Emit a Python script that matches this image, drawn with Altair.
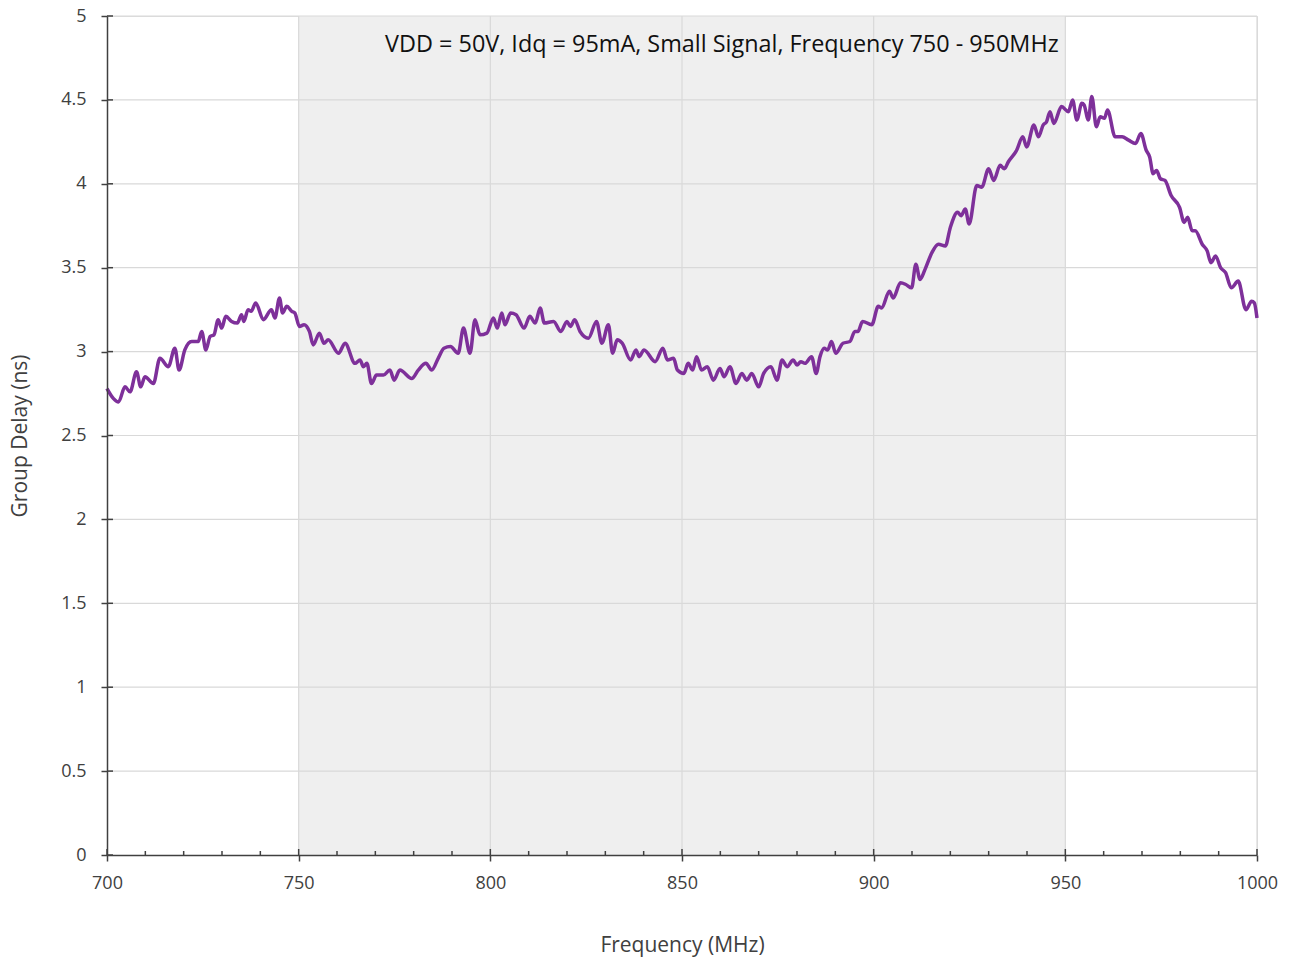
import altair as alt
import pandas as pd

freq = [700, 701.7, 703, 704.7, 706, 707.7, 708.8, 709.9, 712.1, 713.8, 716, 717.7, 718.8, 720.3, 722.1,
        723.8, 724.7, 725.8, 726.9, 727.9, 729.0, 729.9, 731.0, 732.5, 734.0, 735.1, 735.7, 736.8, 737.6,
        738.8, 740.8, 742.9, 743.8, 745.0, 745.8, 746.9, 748.2, 749.0, 750.2, 751.4, 752.8, 753.8, 755.4,
        756.6, 757.7, 760.4, 762.1, 764.7, 766.0, 766.9, 767.8, 769.0, 770.3, 772.1, 773.8, 774.9, 776.4,
        779.5, 781.2, 783.2, 784.7, 786.4, 787.9, 789.6, 791.6, 793.0, 794.7, 796.0, 797.3, 799.1, 800.8,
        801.8, 803.0, 803.8, 805.3, 806.7, 808.8, 810.3, 811.7, 813.0, 814.1, 816.5, 818.4, 820.0, 820.9,
        822.0, 823.4, 825.6, 827.7, 829.1, 830.8, 831.9, 833.1, 834.4, 836.6, 838.0, 838.8, 840.1, 843.0,
        845.0, 846.2, 847.8, 848.8, 850.5, 851.6, 852.8, 853.8, 855.1, 856.6, 858.2, 859.9, 861.0, 862.5,
        864.1, 865.6, 866.9, 868.2, 870.0, 871.3, 873.2, 874.8, 876.1, 877.4, 879.0, 880.0, 881.0, 882.1,
        883.8, 885.0, 886.0, 887.1, 888.0, 889.0, 890.1, 892.0, 893.8, 895.1, 895.9, 897.1, 899.5, 901.2,
        902.1, 904.1, 905.1, 907.0, 908.4, 909.9, 911.0, 912.1, 913.4, 915.2, 916.9, 918.7, 920.0, 921.9,
        922.8, 923.9, 924.9, 926.9, 928.2, 930.0, 931.3, 933.0, 934.1, 935.1, 937.3, 938.9, 939.9, 941.8,
        943.0, 944.2, 945.1, 946.0, 947.0, 949.0, 950.8, 951.9, 953.0, 954.3, 954.9, 956.0, 956.9, 958.1,
        959.1, 960.2, 961.0, 963.0, 964.8, 966.5, 968.3, 969.7, 971.1, 972.0, 972.9, 973.8, 974.8, 976.0,
        977.6, 979.8, 981.0, 981.9, 983.1, 983.9, 985.7, 987.0, 988.0, 989.2, 990.5, 991.8, 993.3, 995.1,
        997.1, 998.6, 999.3, 1000]

delay = [2.78, 2.72, 2.70, 2.79, 2.76, 2.88, 2.79, 2.85, 2.81, 2.96, 2.91, 3.02, 2.89, 3.01, 3.06,
         3.06, 3.12, 3.01, 3.09, 3.10, 3.19, 3.14, 3.21, 3.18, 3.17, 3.22, 3.18, 3.25, 3.24,
         3.29, 3.19, 3.25, 3.20, 3.32, 3.23, 3.27, 3.24, 3.23, 3.15, 3.16, 3.12, 3.04, 3.11,
         3.05, 3.07, 2.99, 3.05, 2.93, 2.95, 2.91, 2.93, 2.81, 2.86, 2.86, 2.89, 2.83, 2.89,
         2.84, 2.89, 2.93, 2.89, 2.96, 3.02, 3.03, 2.99, 3.14, 2.99, 3.19, 3.10, 3.11, 3.20,
         3.14, 3.23, 3.16, 3.23, 3.22, 3.14, 3.21, 3.17, 3.26, 3.17, 3.18, 3.12, 3.18, 3.15,
         3.19, 3.12, 3.08, 3.18, 3.05, 3.16, 2.99, 3.07, 3.05, 2.95, 3.01, 2.97, 3.01, 2.94,
         3.02, 2.95, 2.96, 2.89, 2.87, 2.93, 2.89, 2.97, 2.89, 2.91, 2.83, 2.90, 2.85, 2.91,
         2.81, 2.87, 2.83, 2.87, 2.79, 2.87, 2.91, 2.83, 2.95, 2.91, 2.95, 2.92, 2.94, 2.93,
         2.97, 2.87, 2.97, 3.02, 3.01, 3.06, 2.99, 3.05, 3.06, 3.12, 3.12, 3.18, 3.16, 3.27,
         3.26, 3.36, 3.32, 3.41, 3.40, 3.38, 3.52, 3.43, 3.49, 3.59, 3.64, 3.63, 3.74, 3.83,
         3.81, 3.85, 3.76, 3.99, 3.98, 4.09, 4.02, 4.11, 4.09, 4.13, 4.20, 4.28, 4.22, 4.35,
         4.28, 4.35, 4.37, 4.43, 4.36, 4.46, 4.43, 4.50, 4.38, 4.48, 4.47, 4.38, 4.52, 4.34,
         4.40, 4.39, 4.44, 4.28, 4.28, 4.26, 4.24, 4.30, 4.20, 4.16, 4.06, 4.08, 4.03, 4.02,
         3.93, 3.86, 3.77, 3.80, 3.72, 3.72, 3.64, 3.60, 3.53, 3.57, 3.50, 3.47, 3.38, 3.42,
         3.25, 3.30, 3.29, 3.20]

x_major = [700, 750, 800, 850, 900, 950, 1000]
x_minor = [710, 720, 730, 740, 760, 770, 780, 790, 810, 820, 830, 840, 860, 870, 880, 890,
           910, 920, 930, 940, 960, 970, 980, 990]
y_ticks = [0, 0.5, 1, 1.5, 2, 2.5, 3, 3.5, 4, 4.5, 5]
band_start, band_end = 750, 950
title_text = "VDD = 50V, Idq = 95mA, Small Signal, Frequency 750 - 950MHz"

W, H = 1150, 839
FONT = "Open Sans"
AX = "#404040"
GRID = "#d9d9d9"

xs = alt.Scale(domain=[700, 1000], nice=False, zero=False)
ys = alt.Scale(domain=[0, 5], nice=False)

df = pd.DataFrame({"f": freq, "d": delay})

band = alt.Chart(pd.DataFrame({"a": [band_start], "b": [band_end]})).mark_rect(
    color="#efefef").encode(
    x=alt.X("a:Q", scale=xs), x2="b:Q", y=alt.value(0), y2=alt.value(H))

vgrid = alt.Chart(pd.DataFrame({"v": x_major[1:]})).mark_rule(
    color=GRID, strokeWidth=1.2).encode(x=alt.X("v:Q", scale=xs), y=alt.value(0), y2=alt.value(H))
hgrid = alt.Chart(pd.DataFrame({"v": y_ticks[1:]})).mark_rule(
    color=GRID, strokeWidth=1.2).encode(y=alt.Y("v:Q", scale=ys), x=alt.value(0), x2=alt.value(W))

yin = alt.Chart(pd.DataFrame({"v": y_ticks})).mark_rule(color=AX, strokeWidth=1.5).encode(
    y=alt.Y("v:Q", scale=ys), x=alt.value(0), x2=alt.value(6))
xin = alt.Chart(pd.DataFrame({"v": x_major})).mark_rule(color=AX, strokeWidth=1.5).encode(
    x=alt.X("v:Q", scale=xs), y=alt.value(H), y2=alt.value(H - 6))
xminor = alt.Chart(pd.DataFrame({"v": x_minor})).mark_rule(color=AX, strokeWidth=1.5).encode(
    x=alt.X("v:Q", scale=xs), y=alt.value(H), y2=alt.value(H - 4))

line = alt.Chart(df).mark_line(color="#7e309a", strokeWidth=3.5, interpolate="monotone").encode(
    x=alt.X("f:Q", scale=xs, title="Frequency (MHz)",
            axis=alt.Axis(values=x_major, grid=False, domainColor=AX, domainWidth=1.5,
                          tickColor=AX, tickWidth=1.5, tickSize=6, labelPadding=13,
                          labelFlush=False, format="d",
                          labelFont=FONT, labelFontSize=18, labelColor=AX,
                          titleFont=FONT, titleFontSize=21, titleColor=AX, titleFontWeight="normal",
                          titlePadding=42, zindex=1)),
    y=alt.Y("d:Q", scale=ys, title="Group Delay (ns)",
            axis=alt.Axis(values=y_ticks, grid=False, domainColor=AX, domainWidth=1.5,
                          tickColor=AX, tickWidth=1.5, tickSize=6, labelPadding=15,
                          labelFlush=False,
                          labelExpr="format(datum.value, '~g')",
                          labelFont=FONT, labelFontSize=18, labelColor=AX,
                          titleFont=FONT, titleFontSize=21, titleColor=AX, titleFontWeight="normal",
                          titlePadding=30, zindex=1)),
)

title = alt.Chart(pd.DataFrame({"x": [860.4], "y": [4.83], "t": [title_text]})).mark_text(
    font=FONT, fontSize=23.4, color="#111111", align="center", baseline="middle").encode(
    x=alt.X("x:Q", scale=xs), y=alt.Y("y:Q", scale=ys), text="t:N")

chart = alt.layer(band, vgrid, hgrid, yin, xin, xminor, line, title).properties(
    width=W, height=H,
    autosize=alt.AutoSizeParams(type="none"),
    padding={"left": 99, "top": 8, "right": 26, "bottom": 104},
).configure_view(stroke=None).configure(background="white")

chart.save("out.html", embed_options={"renderer": "svg", "actions": False})
